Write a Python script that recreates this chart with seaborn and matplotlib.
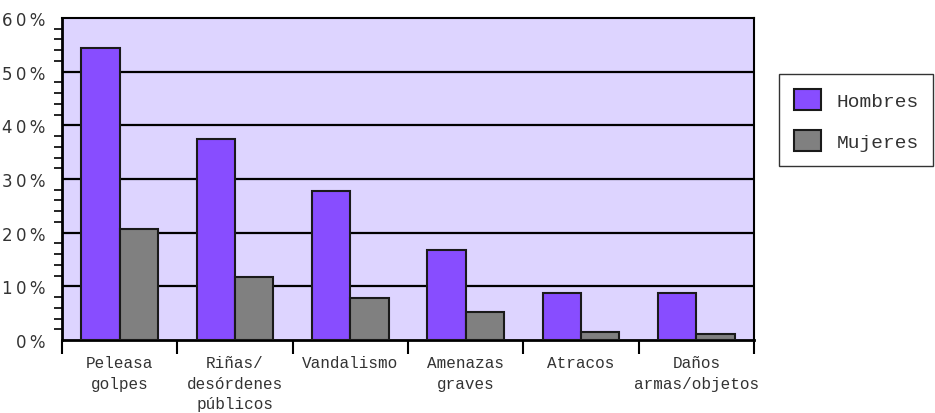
import matplotlib
matplotlib.use("Agg")
import matplotlib.pyplot as plt
import seaborn as sns
import pandas as pd
import numpy as np
from matplotlib.patches import Patch
from matplotlib.ticker import MultipleLocator, FixedLocator

categories = ["Peleasa\ngolpes", "Riñas/\ndesórdenes\npúblicos", "Vandalismo",
              "Amenazas\ngraves", "Atracos", "Daños\narmas/objetos"]
hombres = [54.4, 37.5, 27.8, 16.8, 8.8, 8.8]
mujeres = [20.7, 11.7, 7.8, 5.2, 1.5, 1.1]
series = ["Hombres", "Mujeres"]
y_ticks = [0, 10, 20, 30, 40, 50, 60]
y_labels = ["0\u2009%", "1\u20090\u2009%", "2\u20090\u2009%", "3\u20090\u2009%",
            "4\u20090\u2009%", "5\u20090\u2009%", "6\u20090\u2009%"]

colors = {"Hombres": "#884DFF", "Mujeres": "#808080"}

df = pd.DataFrame({
    "cat": categories * 2,
    "serie": ["Hombres"] * len(categories) + ["Mujeres"] * len(categories),
    "valor": hombres + mujeres,
})

sns.set_theme(style="white")
plt.rcParams["font.family"] = ["Liberation Mono", "DejaVu Sans"]

fig = plt.figure(figsize=(9.35, 4.14), dpi=100)
ax = fig.add_axes([0.0663, 0.1763, 0.7401, 0.7778])
ax.set_facecolor("#DDD4FF")

sns.barplot(data=df, x="cat", y="valor", hue="serie", order=categories,
            hue_order=series, palette=colors, saturation=1, width=2/3, gap=0,
            edgecolor="#1a1a1a", linewidth=1.5, ax=ax, legend=False, zorder=3)

ax.set_xlim(-0.5, len(categories) - 0.5)
ax.set_ylim(0, 60)
ax.set_xlabel("")
ax.set_ylabel("")

ax.yaxis.set_major_locator(FixedLocator(y_ticks))
ax.set_yticklabels(y_labels, fontsize=12, family="DejaVu Sans", color="#333333")
ax.yaxis.set_minor_locator(MultipleLocator(2))
ax.tick_params(axis="y", which="major", length=12, width=1.5, color="black", pad=0)
ax.tick_params(axis="y", which="minor", length=6, width=1.2, color="black", left=True)
for y in y_ticks[1:-1]:
    ax.axhline(y, color="black", linewidth=1.6, zorder=1)

ax.set_xticks(range(len(categories)))
ax.set_xticklabels(categories, fontsize=11.5, color="#333333", linespacing=1.45,
                   va="top")
ax.xaxis.set_minor_locator(FixedLocator(np.arange(-0.5, len(categories), 1.0)))
ax.tick_params(axis="x", which="major", length=0, pad=11)
ax.tick_params(axis="x", which="minor", length=10, width=1.5, color="black",
               bottom=True)

for side in ["left", "bottom", "top", "right"]:
    ax.spines[side].set_visible(True)
    ax.spines[side].set_color("black")
    ax.spines[side].set_linewidth(1.5)
ax.spines["left"].set_linewidth(2)
ax.spines["bottom"].set_linewidth(2)

handles = [Patch(facecolor=colors[s], edgecolor="#1a1a1a", linewidth=1.5, label=s)
           for s in series]
leg = fig.legend(handles=handles, loc="upper left",
                 bbox_to_anchor=(779 / 935, 1 - 75 / 414),
                 frameon=True, fancybox=False, fontsize=14,
                 handlelength=1.4, handleheight=1.3, labelspacing=1.05,
                 handletextpad=0.8, borderpad=0.75, borderaxespad=0)
leg.get_frame().set_edgecolor("black")
leg.get_frame().set_linewidth(1.0)
for t in leg.get_texts():
    t.set_color("#333333")

fig.savefig("out.png", dpi=100)
